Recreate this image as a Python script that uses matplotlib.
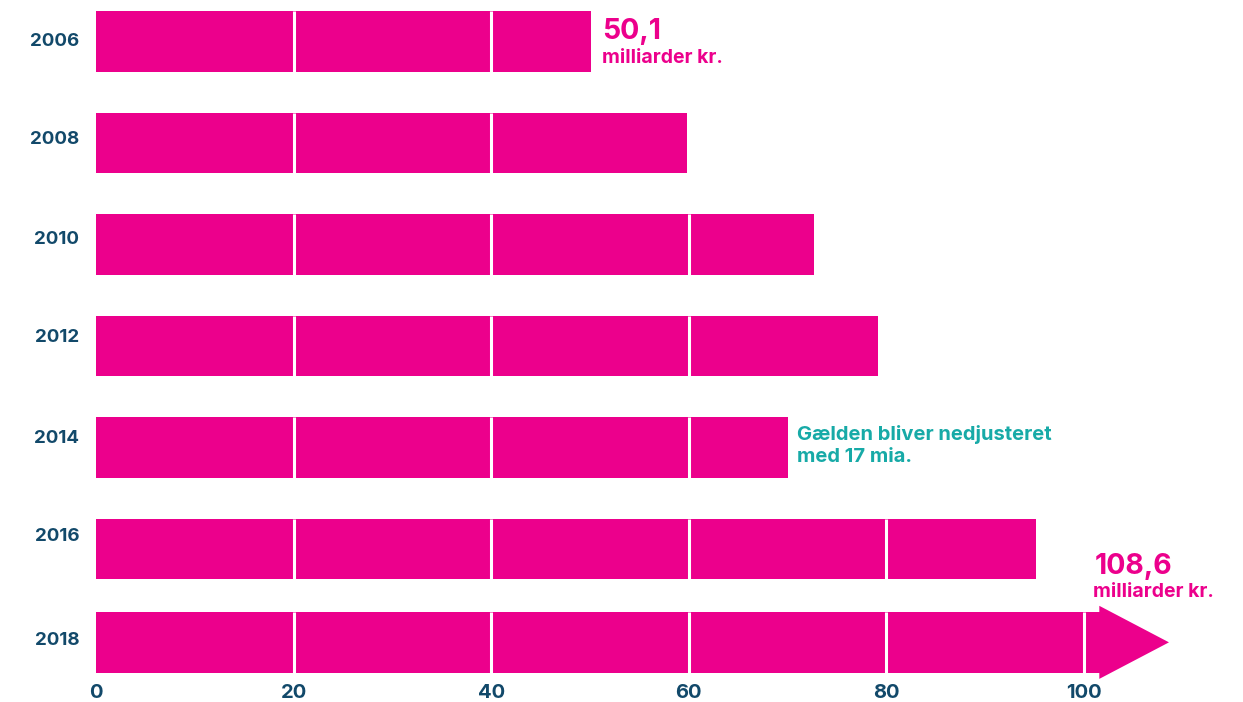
import matplotlib
matplotlib.use("Agg")
import matplotlib.pyplot as plt
from matplotlib.patches import Polygon

# Danish public debt (billion kr.) by year
years = ["2006", "2008", "2010", "2012", "2014", "2016", "2018"]
values = [50.1, 59.8, 72.7, 79.1, 70.0, 95.1, 108.6]
xticks = [0, 20, 40, 60, 80, 100]

first_value_label = "50,1"
last_value_label = "108,6"
unit_label = "milliarder kr."
note_lines = ["Gælden bliver nedjusteret", "med 17 mia."]

PINK = "#ec008c"
TEAL = "#17aaa7"
NAVY = "#12496a"

plt.rcParams["font.family"] = ["Inter", "DejaVu Sans"]
plt.rcParams["font.weight"] = "bold"

# row layout (last row sits a bit closer to the one above)
ypos = [0, 1, 2, 3, 4, 5, 5.92]
label_shift = [0.0, -0.03, -0.05, -0.08, -0.09, -0.12, -0.02]
bar_h = 0.6

fig = plt.figure(figsize=(12.43, 7.02), dpi=100)
ax = fig.add_axes([96 / 1243, 1 - 680 / 702, 1 - 96 / 1243, 680 / 702])
ax.set_xlim(0, (1243 - 96) / 9.88)
ax.set_ylim(6.291, -0.409)

for i, (y, v) in enumerate(zip(ypos, values)):
    if i == len(values) - 1:
        # last bar ends in an arrow head
        base = 101.6
        ax.barh(y, base, height=bar_h, color=PINK, left=0, linewidth=0)
        head = Polygon([[base - 0.05, y - 0.36], [base - 0.05, y + 0.36], [v, y]],
                       closed=True, facecolor=PINK, edgecolor="none")
        ax.add_patch(head)
    else:
        ax.barh(y, v, height=bar_h, color=PINK, left=0, linewidth=0)
    for t in xticks[1:]:
        if t < v:
            ax.vlines(t, y - bar_h / 2, y + bar_h / 2, color="white", linewidth=2.2)
    ax.text(-1.7, y + label_shift[i], years[i], ha="right", va="center",
            fontsize=13.5, color=NAVY, fontweight="bold")

# value annotations
ax.text(51.2, -0.025, first_value_label, fontsize=20.5, color=PINK, fontweight="bold", va="baseline")
ax.text(51.2, 0.21, unit_label, fontsize=14, color=PINK, fontweight="bold", va="baseline")
ax.text(101.1, 5.246, last_value_label, fontsize=20.5, color=PINK, fontweight="bold", va="baseline")
ax.text(100.9, 5.473, unit_label, fontsize=14, color=PINK, fontweight="bold", va="baseline")
ax.text(71.0, 3.926, note_lines[0], fontsize=14.5, color=TEAL, fontweight="bold", va="baseline")
ax.text(71.0, 4.143, note_lines[1], fontsize=14.5, color=TEAL, fontweight="bold", va="baseline")

ax.set_xticks(xticks)
ax.set_xticklabels([str(t) for t in xticks])
ax.tick_params(axis="x", length=0, pad=3, labelsize=14.5, labelcolor=NAVY)
ax.set_yticks([])
for spine in ax.spines.values():
    spine.set_visible(False)

fig.savefig("out.png", dpi=100)
